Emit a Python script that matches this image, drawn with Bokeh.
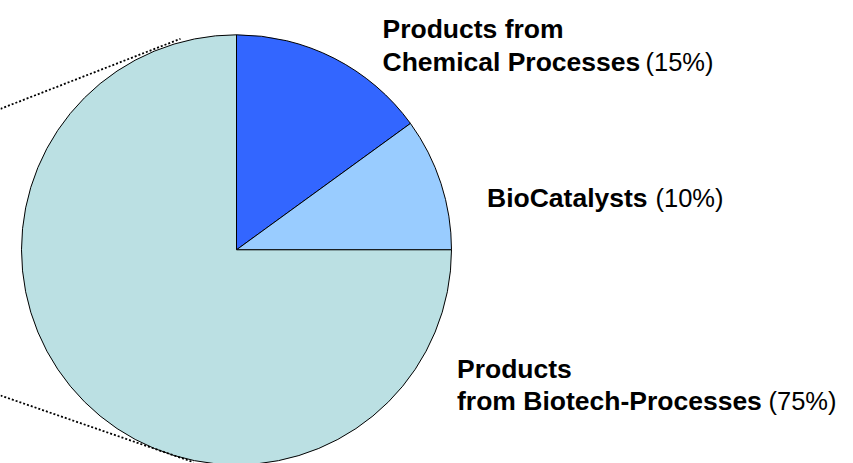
import numpy as np
from bokeh.plotting import figure
from bokeh.models import Range1d, ColumnDataSource
from bokeh.core.properties import value
from bokeh.embed import file_html
from bokeh.resources import INLINE

# ---- data ----
categories = ["Products from Chemical Processes", "BioCatalysts", "Products from Biotech-Processes"]
shares = [15, 10, 75]
colors = ["#3366FF", "#99CCFF", "#BBE0E3"]
bold_lines = [["Products from", "Chemical Processes"], ["BioCatalysts"], ["Products", "from Biotech-Processes"]]
pct_labels = ["(15%)", "(10%)", "(75%)"]

# ---- layout (screen pixel coordinates) ----
W, H = 853, 463
def sy(y):  # screen y -> data y
    return H - y

cx, cy, R = 236, sy(249.3), 215

p = figure(width=W, height=H, output_backend="svg", toolbar_location=None,
           x_range=Range1d(0, W), y_range=Range1d(0, H),
           min_border=0, min_border_left=0, min_border_right=0,
           min_border_top=0, min_border_bottom=0)
p.axis.visible = False
p.grid.visible = False
p.outline_line_color = None
p.background_fill_color = "white"
p.border_fill_color = "white"

frac = np.array(shares, dtype=float) / sum(shares)
cum = np.cumsum(frac)
starts_cw = np.pi / 2 - np.concatenate([[0], cum[:-1]]) * 2 * np.pi
ends_cw = np.pi / 2 - cum * 2 * np.pi

src = ColumnDataSource(dict(start=ends_cw, end=starts_cw, color=colors, cat=categories))
p.wedge(x=cx, y=cy, radius=R, start_angle="start", end_angle="end",
        fill_color="color", line_color="black", line_width=1, source=src)

# connector dotted lines (from off-chart pie-of-pie)
p.segment(x0=[0, 0], y0=[sy(108.3), sy(395)], x1=[180, 193], y1=[sy(38.3), sy(461.7)],
          line_color="black", line_width=1.8, line_dash="2 2")

# labels
bold_pos = [[(382, 28.5), (382, 61.5)], [(486.5, 197)], [(456.5, 368.5), (456.5, 400)]]
pct_pos = [(645, 61.5), (655, 197), (768, 400)]
font = value("Liberation Sans")
bx, by, bt = [], [], []
for lines, pos in zip(bold_lines, bold_pos):
    for t, (x, y) in zip(lines, pos):
        bx.append(x); by.append(sy(y)); bt.append(t)
p.text(x=bx, y=by, text=bt, text_font=font, text_font_size="26.5px", text_font_style="bold",
       text_color="black", text_baseline="alphabetic", text_align="left")
p.text(x=[q[0] for q in pct_pos], y=[sy(q[1]) for q in pct_pos], text=pct_labels,
       text_font=font, text_font_size="25.5px", text_color="black",
       text_baseline="alphabetic", text_align="left")

open("out.html", "w").write(file_html(p, INLINE))
